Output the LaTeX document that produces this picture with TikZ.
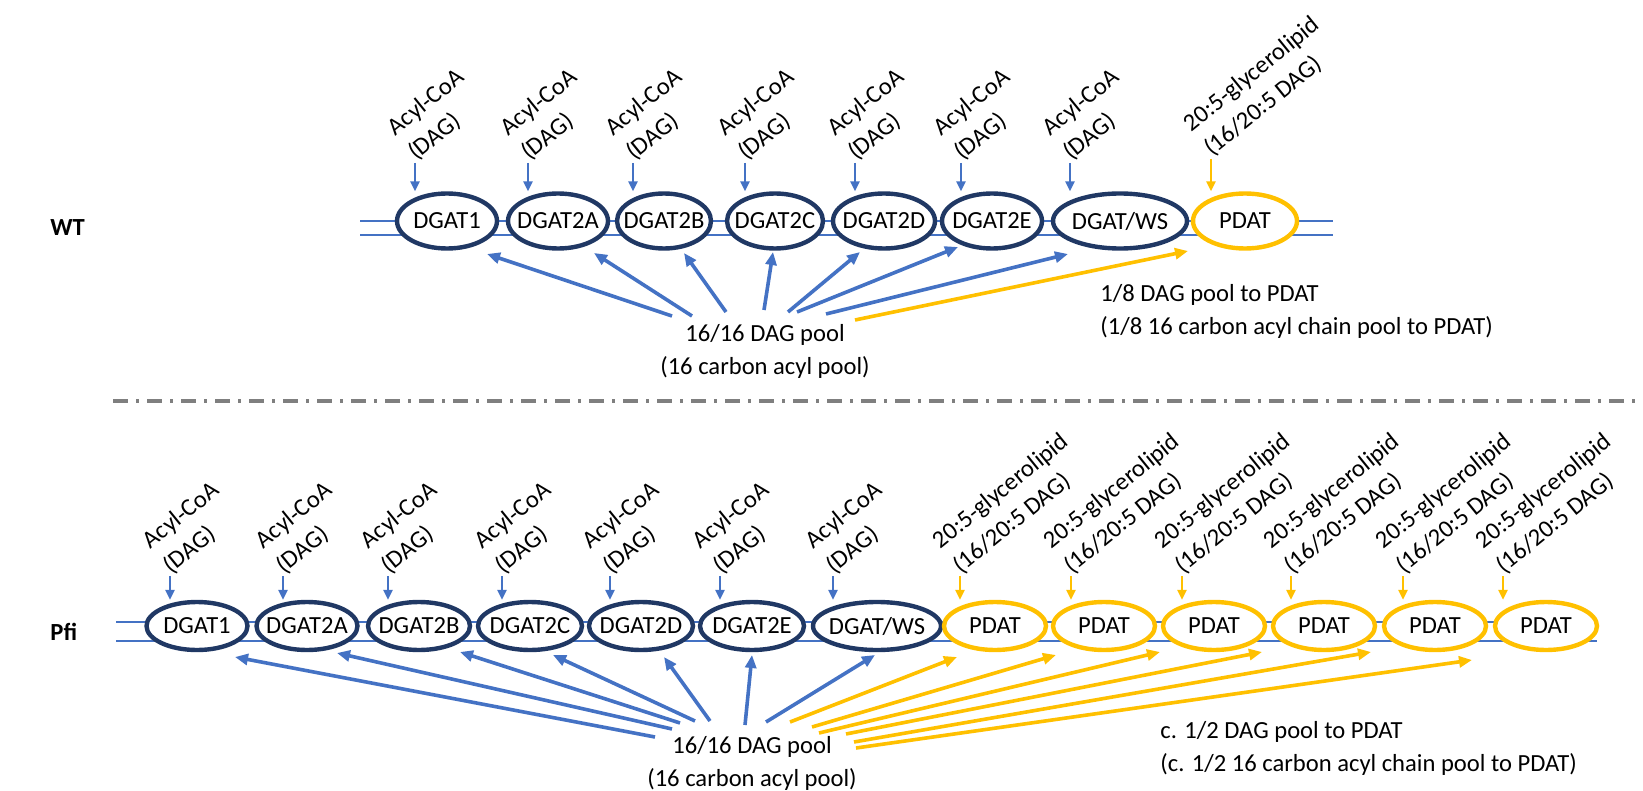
\documentclass[tikz,border=0pt]{standalone}
\usepackage{fontspec}
\setmainfont{Carlito}
\usetikzlibrary{shapes.geometric,arrows.meta}
\definecolor{mblue}{HTML}{4472C4}
\definecolor{navy}{HTML}{203864}
\definecolor{gold}{HTML}{FFC000}
\definecolor{divider}{HTML}{7F7F7F}
\newcommand\labfont{\fontsize{12.3pt}{16pt}\selectfont}
\newcommand\poolfont{\fontsize{12.3pt}{16.5pt}\selectfont}
\newcommand\zw[1]{\makebox[0pt]{#1}}
% two-line substrate label of zero size; its reference point is the start of the last baseline
\newcommand\stack[1]{\rlap{\smash{\begin{tabular}[b]{@{}l@{}}#1\end{tabular}}}}

\begin{document}
\begin{tikzpicture}[x=0.5pt,y=-0.5pt,
  memb/.style={draw=mblue, line width=1pt},
  enz/.style={ellipse, draw=navy, line width=2.2pt, fill=white, inner sep=0pt,
              minimum height=27.5pt, font=\labfont},
  enzb/.style={enz, minimum height=24pt},
  pd/.style={enz, draw=gold},
  pdb/.style={enzb, draw=gold},
  feed/.style={-{Triangle[length=5pt,width=4.5pt]}, line width=1.3pt, draw=mblue},
  feedy/.style={feed, draw=gold},
  flux/.style={-{Triangle[length=6.5pt,width=5.5pt]}, line width=1.8pt, draw=mblue},
  fluxy/.style={flux, draw=gold},
  sub/.style={inner sep=0pt, font=\labfont, rotate=39, transform shape},
  note/.style={anchor=west, align=left, inner sep=0pt, font=\poolfont},
]
\useasboundingbox (0,0) rectangle (1643,791);

% ---------------- WT ----------------
\node[anchor=west, inner sep=0pt, font=\labfont\bfseries] (wt) at (50,228) {WT};

% membrane
\draw[memb] (360,221) -- (1333,221) (360,235) -- (1333,235);

% enzymes
\node[enz, minimum width=50pt] (t1)  at (447,221)  {\zw{DGAT1}};
\node[enz, minimum width=50pt] (t2a) at (558,221)  {\zw{DGAT2A}};
\node[enz, minimum width=47pt] (t2b) at (664,221)  {\zw{DGAT2B}};
\node[enz, minimum width=48pt] (t2c) at (775,221)  {\zw{DGAT2C}};
\node[enz, minimum width=51pt] (t2d) at (884,221)  {\zw{DGAT2D}};
\node[enz, minimum width=50pt] (t2e) at (992,221)  {\zw{DGAT2E}};
\node[enz, minimum width=67pt] (tws) at (1120,221) {\zw{DGAT/WS}};
\node[pd,  minimum width=52pt] (tp)  at (1245,221) {\zw{PDAT}};

% substrates feeding each enzyme
\coordinate (t1f)  at (415,163);
\coordinate (t2af) at (528,163);
\coordinate (t2bf) at (633,163);
\coordinate (t2cf) at (745,163);
\coordinate (t2df) at (855,163);
\coordinate (t2ef) at (961,163);
\coordinate (twsf) at (1070,163);
\coordinate (tpf)  at (1211,159);
\draw[feed]  (t1f)  -- (t1f  |- t1.north);
\draw[feed]  (t2af) -- (t2af |- t2a.north);
\draw[feed]  (t2bf) -- (t2bf |- t2b.north);
\draw[feed]  (t2cf) -- (t2cf |- t2c.north);
\draw[feed]  (t2df) -- (t2df |- t2d.north);
\draw[feed]  (t2ef) -- (t2ef |- t2e.north);
\draw[feed]  (twsf) -- (twsf |- tws.north);
\draw[feedy] (tpf)  -- (tpf  |- tp.north);
\node[sub] (t1l)  at ([shift={(1,-2)}]t1f)  {\stack{Acyl-CoA\\(DAG)}};
\node[sub] (t2al) at ([shift={(1,-2)}]t2af) {\stack{Acyl-CoA\\(DAG)}};
\node[sub] (t2bl) at ([shift={(1,-2)}]t2bf) {\stack{Acyl-CoA\\(DAG)}};
\node[sub] (t2cl) at ([shift={(1,-2)}]t2cf) {\stack{Acyl-CoA\\(DAG)}};
\node[sub] (t2dl) at ([shift={(1,-2)}]t2df) {\stack{Acyl-CoA\\(DAG)}};
\node[sub] (t2el) at ([shift={(1,-2)}]t2ef) {\stack{Acyl-CoA\\(DAG)}};
\node[sub] (twsl) at ([shift={(1,-2)}]twsf) {\stack{Acyl-CoA\\(DAG)}};
\node[sub] (tpl)  at ([shift={(1,-2)}]tpf)  {\stack{20:5-glycerolipid\\(16/20:5 DAG)}};

% DAG pool and its fluxes
\node[align=center, inner sep=0pt, font=\poolfont] (tpool) at (765,351)
  {16/16 DAG pool\\(16 carbon acyl pool)};
\draw[flux]  ([shift={(-93,-35)}]tpool.center) -- ([shift={(40,33)}]t1.center);
\draw[flux]  ([shift={(-73,-35)}]tpool.center) -- ([shift={(36,32)}]t2a.center);
\draw[flux]  ([shift={(-39,-39)}]tpool.center) -- ([shift={(20,32)}]t2b.center);
\draw[flux]  ([shift={(-1,-41)}]tpool.center)  -- ([shift={(-2,31)}]t2c.center);
\draw[flux]  ([shift={(23,-39)}]tpool.center)  -- ([shift={(-24,31)}]t2d.center);
\draw[flux]  ([shift={(32,-39)}]tpool.center)  -- ([shift={(-34,26)}]t2e.center);
\draw[flux]  ([shift={(61,-37)}]tpool.center)  -- ([shift={(-52,33)}]tws.center);
\draw[fluxy] ([shift={(90,-31)}]tpool.center)  -- ([shift={(-57,30)}]tp.center);

\node[note] (tnote) at (1100,311)
  {1/8 DAG pool to PDAT\\(1/8 16 carbon acyl chain pool to PDAT)};

% ---------------- divider ----------------
\draw[divider, line width=2pt, dash pattern=on 7.5pt off 4pt on 1.5pt off 4pt]
  (113,401) -- (1643,401);

% ---------------- Pfi ----------------
\node[anchor=west, inner sep=0pt, font=\labfont\bfseries] (pfi) at (50,632) {Pfi};

\draw[memb] (116,622) -- (1597,622) (116,641) -- (1597,641);

\node[enzb, minimum width=50.5pt] (b1)  at (197,626)  {\zw{DGAT1}};
\node[enzb, minimum width=50.5pt] (b2a) at (307,626)  {\zw{DGAT2A}};
\node[enzb, minimum width=51pt]   (b2b) at (419,626)  {\zw{DGAT2B}};
\node[enzb, minimum width=52pt]   (b2c) at (530,626)  {\zw{DGAT2C}};
\node[enzb, minimum width=52pt]   (b2d) at (641,626)  {\zw{DGAT2D}};
\node[enzb, minimum width=52pt]   (b2e) at (752,626)  {\zw{DGAT2E}};
\node[enzb, minimum width=64pt]   (bws) at (877,626)  {\zw{DGAT/WS}};
\node[pdb,  minimum width=51pt]   (bp1) at (995,626)  {\zw{PDAT}};
\node[pdb,  minimum width=51pt]   (bp2) at (1104,626) {\zw{PDAT}};
\node[pdb,  minimum width=51pt]   (bp3) at (1214,626) {\zw{PDAT}};
\node[pdb,  minimum width=51pt]   (bp4) at (1324,626) {\zw{PDAT}};
\node[pdb,  minimum width=51pt]   (bp5) at (1435,626) {\zw{PDAT}};
\node[pdb,  minimum width=51pt]   (bp6) at (1546,626) {\zw{PDAT}};

\coordinate (b1f)  at (170,576);
\coordinate (b2af) at (283,576);
\coordinate (b2bf) at (388,576);
\coordinate (b2cf) at (502,576);
\coordinate (b2df) at (610,576);
\coordinate (b2ef) at (720,576);
\coordinate (bwsf) at (833,576);
\coordinate (bp1f) at (960,576);
\coordinate (bp2f) at (1071,576);
\coordinate (bp3f) at (1182,576);
\coordinate (bp4f) at (1291,576);
\coordinate (bp5f) at (1403,576);
\coordinate (bp6f) at (1503,576);
\draw[feed]  (b1f)  -- (b1f  |- b1.north);
\draw[feed]  (b2af) -- (b2af |- b2a.north);
\draw[feed]  (b2bf) -- (b2bf |- b2b.north);
\draw[feed]  (b2cf) -- (b2cf |- b2c.north);
\draw[feed]  (b2df) -- (b2df |- b2d.north);
\draw[feed]  (b2ef) -- (b2ef |- b2e.north);
\draw[feed]  (bwsf) -- (bwsf |- bws.north);
\draw[feedy] (bp1f) -- (bp1f |- bp1.north);
\draw[feedy] (bp2f) -- (bp2f |- bp2.north);
\draw[feedy] (bp3f) -- (bp3f |- bp3.north);
\draw[feedy] (bp4f) -- (bp4f |- bp4.north);
\draw[feedy] (bp5f) -- (bp5f |- bp5.north);
\draw[feedy] (bp6f) -- (bp6f |- bp6.north);
\node[sub] (b1l)  at ([shift={(1,-2)}]b1f)  {\stack{Acyl-CoA\\(DAG)}};
\node[sub] (b2al) at ([shift={(1,-2)}]b2af) {\stack{Acyl-CoA\\(DAG)}};
\node[sub] (b2bl) at ([shift={(1,-2)}]b2bf) {\stack{Acyl-CoA\\(DAG)}};
\node[sub] (b2cl) at ([shift={(1,-2)}]b2cf) {\stack{Acyl-CoA\\(DAG)}};
\node[sub] (b2dl) at ([shift={(1,-2)}]b2df) {\stack{Acyl-CoA\\(DAG)}};
\node[sub] (b2el) at ([shift={(1,-2)}]b2ef) {\stack{Acyl-CoA\\(DAG)}};
\node[sub] (bwsl) at ([shift={(1,-2)}]bwsf) {\stack{Acyl-CoA\\(DAG)}};
\node[sub] (bp1l) at ([shift={(1,-2)}]bp1f) {\stack{20:5-glycerolipid\\(16/20:5 DAG)}};
\node[sub] (bp2l) at ([shift={(1,-2)}]bp2f) {\stack{20:5-glycerolipid\\(16/20:5 DAG)}};
\node[sub] (bp3l) at ([shift={(1,-2)}]bp3f) {\stack{20:5-glycerolipid\\(16/20:5 DAG)}};
\node[sub] (bp4l) at ([shift={(1,-2)}]bp4f) {\stack{20:5-glycerolipid\\(16/20:5 DAG)}};
\node[sub] (bp5l) at ([shift={(1,-2)}]bp5f) {\stack{20:5-glycerolipid\\(16/20:5 DAG)}};
\node[sub] (bp6l) at ([shift={(1,-2)}]bp6f) {\stack{20:5-glycerolipid\\(16/20:5 DAG)}};

\node[align=center, inner sep=0pt, font=\poolfont] (bpool) at (752,763)
  {16/16 DAG pool\\(16 carbon acyl pool)};
\draw[flux]  ([shift={(-97,-26)}]bpool.center) -- ([shift={(38,31)}]b1.center);
\draw[flux]  ([shift={(-80,-34)}]bpool.center) -- ([shift={(30,27)}]b2a.center);
\draw[flux]  ([shift={(-72,-40)}]bpool.center) -- ([shift={(41,26)}]b2b.center);
\draw[flux]  ([shift={(-57,-42)}]bpool.center) -- ([shift={(23,29)}]b2c.center);
\draw[flux]  ([shift={(-42,-42)}]bpool.center) -- ([shift={(23,31)}]b2d.center);
\draw[flux]  ([shift={(-7,-38)}]bpool.center)  -- ([shift={(0,29)}]b2e.center);
\draw[flux]  ([shift={(14,-41)}]bpool.center)  -- ([shift={(-2,29)}]bws.center);
\draw[fluxy] ([shift={(38,-41)}]bpool.center)  -- ([shift={(-38,31)}]bp1.center);
\draw[fluxy] ([shift={(60,-36)}]bpool.center)  -- ([shift={(-48,29)}]bp2.center);
\draw[fluxy] ([shift={(67,-30)}]bpool.center)  -- ([shift={(-54,26)}]bp3.center);
\draw[fluxy] ([shift={(94,-29)}]bpool.center)  -- ([shift={(-62,26)}]bp4.center);
\draw[fluxy] ([shift={(102,-21)}]bpool.center) -- ([shift={(-64,26)}]bp5.center);
\draw[fluxy] ([shift={(104,-15)}]bpool.center) -- ([shift={(-74,34)}]bp6.center);

\node[note] (bnote) at (1160,748)
  {c. 1/2 DAG pool to PDAT\\(c. 1/2 16 carbon acyl chain pool to PDAT)};
\end{tikzpicture}
\end{document}
